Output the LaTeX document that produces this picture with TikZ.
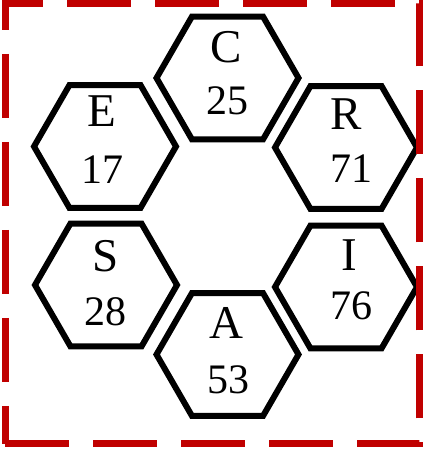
\documentclass[tikz,border=0pt]{standalone}
\usepackage{fontspec}
\setmainfont{Liberation Serif}
\usetikzlibrary{shapes.geometric}
\definecolor{borderred}{RGB}{192,0,0}
\tikzset{
  hexa/.style={regular polygon, regular polygon sides=6, draw=black, line width=6pt,
    minimum size=142pt, inner sep=0pt, outer sep=0pt, line join=miter},
  letter/.style={anchor=base, inner sep=0pt, font=\fontsize{47}{47}\selectfont},
  num/.style={anchor=base, inner sep=0pt, font=\fontsize{42}{42}\selectfont},
  frame/.style={draw=borderred, line width=7pt, dash pattern=on 64pt off 24pt, line cap=butt, line join=miter}
}
\begin{document}
\begin{tikzpicture}[x=1pt,y=1pt]
\useasboundingbox (0,0) rectangle (423,450);
% hexagons
\node[hexa] (C) at (227.5,372) {};
\node[hexa] (E) at (105,303.5) {};
\node[hexa] (R) at (346,302.5) {};
\node[hexa] (S) at (106,165) {};
\node[hexa] (I) at (346,163) {};
\node[hexa] (A) at (227.5,95.5) {};
% labels
\node[letter] (Cl) at (226,387) {C};
\node[num] (Cn) at (227,335) {25};
\node[letter] (El) at (102,323) {E};
\node[num] (En) at (102,266) {17};
\node[letter] (Rl) at (346,320) {R};
\node[num] (Rn) at (351,267) {71};
\node[letter] (Sl) at (106,178) {S};
\node[num] (Sn) at (105,124) {28};
\node[letter] (Il) at (349,179) {I};
\node[num] (In) at (351,130) {76};
\node[letter] (Al) at (226,111) {A};
\node[num] (An) at (228,56) {53};
% dashed frame
\draw[frame] (5,6) -- (419.5,6) -- (419.5,446.5) -- (5,446.5) -- cycle;
\end{tikzpicture}
\end{document}
